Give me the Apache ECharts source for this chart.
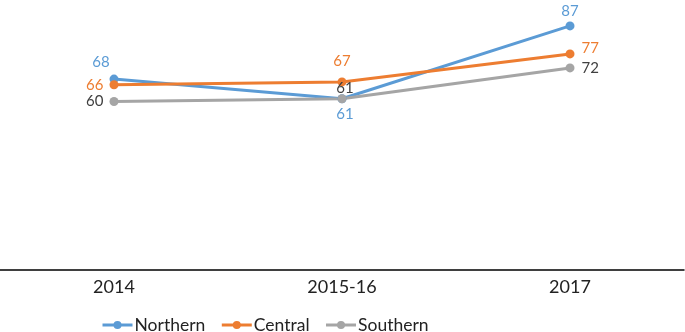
<!DOCTYPE html>
<html>
<head>
<meta charset="utf-8">
<script src="https://cdn.jsdelivr.net/npm/echarts@6/dist/echarts.min.js"></script>
<style>
  html, body { margin: 0; padding: 0; background: #fff; }
  #chart { width: 685px; height: 332px; }
</style>
</head>
<body>
<div id="chart"></div>
<script>
const years = ['2014', '2015-16', '2017']
const northern = [68, 61, 87]
const central = [66, 67, 77]
const southern = [60, 61, 72]

const FONT = 'Lato'

// label placement per point (Excel-like manual positions)
function points(values, color, places) {
  return values.map((v, i) => ({
    value: v,
    label: Object.assign({ show: true, color: color, fontSize: 15, fontFamily: FONT }, places[i])
  }))
}

const chart = echarts.init(document.getElementById('chart'), null, { renderer: 'canvas' })

function line(name, color, data) {
  return {
    name: name,
    type: 'line',
    data: data,
    symbol: 'circle',
    symbolSize: 9,
    lineStyle: { width: 3, color: color },
    itemStyle: { color: color },
    z: 2
  }
}

chart.setOption({
  animation: false,
  backgroundColor: '#fff',
  grid: { left: 0, right: 1, top: 17.5, bottom: 62.5 },
  xAxis: {
    type: 'category',
    data: years,
    boundaryGap: true,
    axisLine: { lineStyle: { color: '#000', width: 1.5 } },
    axisTick: { show: false },
    axisLabel: { color: '#222', fontSize: 18, fontFamily: FONT, margin: 9 }
  },
  yAxis: {
    type: 'value',
    min: 0,
    max: 90,
    show: false,
    splitLine: { show: false }
  },
  legend: {
    left: 96,
    top: 311,
    itemWidth: 30,
    itemHeight: 10,
    itemGap: 15,
    lineStyle: { width: 3 },
    textStyle: { color: '#222', fontSize: 17.5, fontFamily: FONT, padding: [0, 0, 0, -3] },
    data: ['Northern', 'Central', 'Southern']
  },
  series: [
    line('Northern', '#5B9BD5', points(northern, '#5B9BD5', [
      { position: 'top', offset: [-13, 0] },
      { position: 'bottom', offset: [3, -2] },
      { position: 'top', offset: [0, 2] }
    ])),
    line('Central', '#ED7D31', points(central, '#ED7D31', [
      { position: 'left', offset: [-1, 0] },
      { position: 'top', distance: 9 },
      { position: 'right', offset: [2, -6] }
    ])),
    line('Southern', '#A5A5A5', points(southern, '#404040', [
      { position: 'left', offset: [-1, 0] },
      { position: 'top', offset: [3, 6] },
      { position: 'right', offset: [2, 0] }
    ]))
  ]
})
</script>
</body>
</html>
